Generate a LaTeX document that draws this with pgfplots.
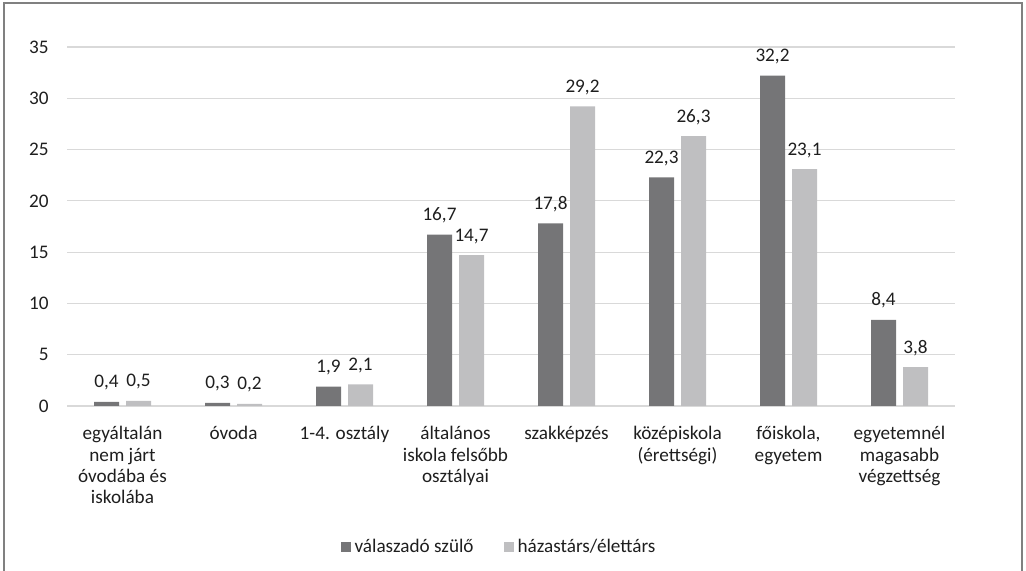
\documentclass[border=0pt]{standalone}
\usepackage{pgfplots}
\pgfplotsset{compat=1.18}
\usepackage{fontspec}
\setmainfont{Carlito}
\definecolor{darkbar}{RGB}{117,117,119}
\definecolor{lightbar}{RGB}{191,191,193}
\definecolor{gridc}{RGB}{217,217,217}
\definecolor{framec}{RGB}{128,128,128}
\definecolor{txt}{RGB}{30,30,30}
\begin{document}
\fontsize{9.6}{10.7}\selectfont
\begin{tikzpicture}
\path[use as bounding box] (0,0) rectangle (513pt,285.5pt);
\draw[framec, line width=0.6pt] (2pt,0) -- (2pt,284pt) -- (511pt,284pt) -- (511pt,0);
\begin{axis}[
  at={(33.5pt,82.5pt)}, anchor=south west,
  scale only axis, width=444pt, height=179.5pt,
  xmin=-0.5, xmax=7.5, ymin=0, ymax=35,
  ybar=3.5pt, bar width=12.5pt,
  axis line style={draw=none},
  major tick length=0pt, tick style={draw=none},
  ytick={0,5,...,35},
  ymajorgrids, grid style={gridc, line width=0.6pt},
  xtick=data,
  xticklabels={{egyáltalán\\nem járt\\óvodába és\\iskolába},{óvoda},{1-4. osztály},{általános\\iskola felsőbb\\osztályai},{szakképzés},{középiskola\\(érettségi)},{főiskola,\\egyetem},{egyetemnél\\magasabb\\végzettség}},
  xticklabel style={align=center, anchor=north, inner sep=0pt, yshift=-10pt, text=txt, font=\fontsize{9.6}{10.7}\selectfont},
  yticklabel style={anchor=east, inner sep=0pt, xshift=-9pt, text=txt, font=\fontsize{9.6}{10.7}\selectfont},
  /pgf/number format/assume math mode=true,
  nodes near coords={\pgfmathprintnumber[fixed, fixed zerofill, precision=1, use comma, assume math mode=true]{\pgfplotspointmeta}},
  nodes near coords style={anchor=base, inner sep=0pt, yshift=7pt, text=txt, font=\fontsize{9.6}{10.7}\selectfont},
  legend columns=2,
  legend style={at={(0.4876,-0.3928)}, anchor=center, draw=none, fill=none, inner sep=0pt, font=\fontsize{9.6}{10.7}\selectfont, text=txt,
    /tikz/every even column/.append style={column sep=13pt}},
  legend image code/.code={\fill[#1] (0pt,-2.5pt) rectangle (5pt,2.5pt);},
  legend cell align=left,
]
\addplot[draw=none, fill=darkbar] coordinates {(0,0.4) (1,0.3) (2,1.9) (3,16.7) (4,17.8) (5,22.3) (6,32.2) (7,8.4)};
\addplot[draw=none, fill=lightbar] coordinates {(0,0.5) (1,0.2) (2,2.1) (3,14.7) (4,29.2) (5,26.3) (6,23.1) (7,3.8)};
\legend{válaszadó szülő, házastárs/élettárs}
\end{axis}
\end{tikzpicture}
\end{document}
